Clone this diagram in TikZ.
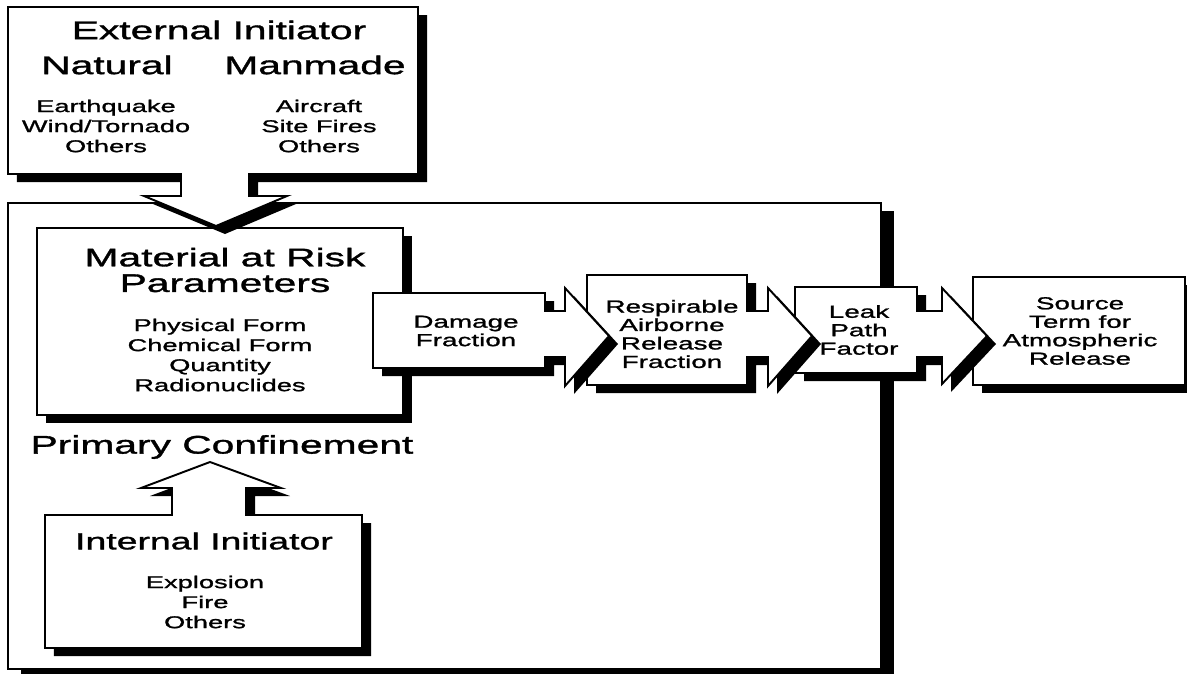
\documentclass[tikz,border=0pt]{standalone}
\usepackage{fontspec}
\newfontfamily\diagfont[FakeStretch=1.6, FakeBold=1.3]{Liberation Sans}
\usetikzlibrary{shadows}

\tikzset{
  shbox/.style={draw, fill=white, line width=1.1pt, line join=miter,
    drop shadow={shadow xshift=#1, shadow yshift=-0.16cm, fill=black, opacity=1}},
  shbox/.default=0.18cm,
  bigtxt/.style={font=\diagfont\fontsize{14.5}{14.6}\selectfont, align=center, inner sep=0pt},
  listtxt/.style={font=\diagfont\fontsize{9.7}{11.4}\selectfont, align=center, inner sep=0pt},
  boxtxt/.style={font=\diagfont\fontsize{9.9}{10.5}\selectfont, align=center, inner sep=0pt}
}

\begin{document}
\begin{tikzpicture}[x=0.02cm, y=-0.02cm]
        \useasboundingbox (0,0) rectangle (1187,673);

        % Primary confinement
        \draw[shbox=0.26cm] (8,203) rectangle (881,669);

        % Material at risk
        \draw[shbox] (37,228) rectangle (403,415);

        % Internal initiator, arrow up
        \draw[shbox] (45,515) -- (172,515) -- (172,488) -- (141,488) -- (210,462)
            -- (281,488) -- (246,488) -- (246,515) -- (362,515) -- (362,648)
            -- (45,648) -- cycle;

        % External initiator, arrow down
        \draw[shbox] (8,7) -- (418,7) -- (418,174) -- (249,174) -- (249,196)
            -- (287,196) -- (216,226) -- (144,196) -- (181,196) -- (181,174)
            -- (8,174) -- cycle;

        % Chain, right to left
        \draw[shbox] (973,277) rectangle (1185,385);
        \draw[shbox] (795,287) -- (917,287) -- (917,311) -- (942,311) -- (942,288)
            -- (987,336) -- (942,384) -- (942,357) -- (917,357) -- (917,373)
            -- (795,373) -- cycle;
        \draw[shbox] (587,275) -- (747,275) -- (747,311) -- (768,311) -- (768,288)
            -- (812,336) -- (768,386) -- (768,357) -- (747,357) -- (747,385)
            -- (587,385) -- cycle;
        \draw[shbox] (373,293) -- (545,293) -- (545,311) -- (565,311) -- (565,288)
            -- (609,336) -- (565,386) -- (565,357) -- (545,357) -- (545,368)
            -- (373,368) -- cycle;

        % Labels
        \node[bigtxt] (ext) at (219,30) {External Initiator};
        \node[bigtxt] (nat) at (107,65) {Natural};
        \node[bigtxt] (man) at (315,65) {Manmade};
        \node[listtxt] (natlist) at (106,126) {Earthquake\\Wind/Tornado\\Others};
        \node[listtxt] (manlist) at (319,126) {Aircraft\\Site Fires\\Others};
        \node[bigtxt] (mar) at (225,270) {Material at Risk\\Parameters};
        \node[listtxt] (marlist) at (220,355) {Physical Form\\Chemical Form\\Quantity\\Radionuclides};
        \node[bigtxt] (conf) at (222,447) {Primary Confinement};
        \node[bigtxt, font=\diagfont\fontsize{13.3}{14}\selectfont] (int) at (204,541) {Internal Initiator};
        \node[listtxt] (intlist) at (205,602) {Explosion\\Fire\\Others};
        \node[boxtxt] (dmg) at (466,331) {Damage\\Fraction};
        \node[boxtxt] (rarf) at (672,334) {Respirable\\Airborne\\Release\\Fraction};
        \node[boxtxt] (lpf) at (859,330) {Leak\\Path\\Factor};
        \node[boxtxt] (src) at (1080,331) {Source\\Term for\\Atmospheric\\Release};
    \end{tikzpicture}
\end{document}
